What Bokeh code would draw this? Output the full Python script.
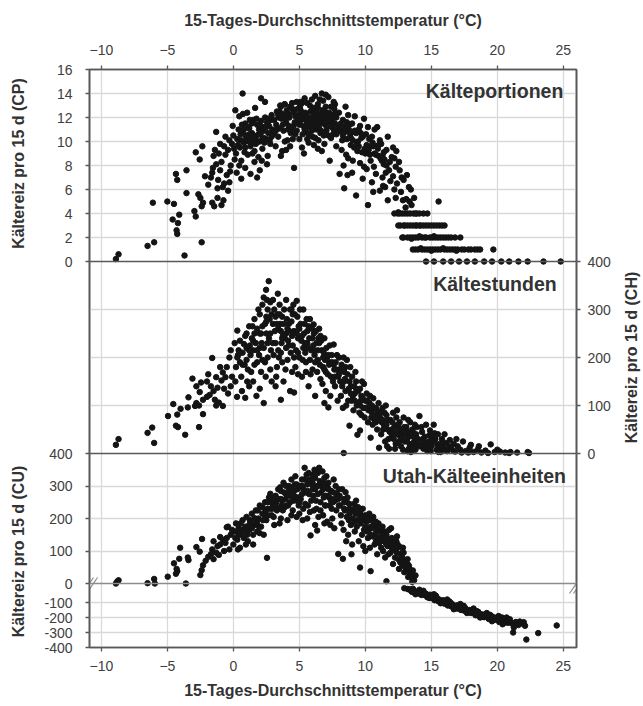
import math
from bokeh.plotting import figure
from bokeh.models import Range1d, FixedTicker, Label, Span, LinearAxis
from bokeh.layouts import row
from bokeh.embed import file_html
from bokeh.resources import INLINE

# ---------------- data (temperature °C, chill value) ----------------
x_ticks = [-10, -5, 0, 5, 10, 15, 20, 25]
cp_ticks = [0, 2, 4, 6, 8, 10, 12, 14, 16]
ch_ticks = [0, 100, 200, 300, 400]
cu_pos_ticks = [0, 100, 200, 300, 400]
cu_neg_ticks = [-400, -300, -200, -100]

cp_pairs = [
    (-8.9, 0.2), (-8.7, 0.6), (-6.5, 1.3), (-6.0, 1.6), (-6.1, 4.9), (-5.0, 5.0), (-4.5, 4.8), (-4.6, 3.5),
    (-4.1, 3.9), (-4.2, 3.2), (-4.3, 2.6), (-4.25, 2.3), (-4.35, 7.3), (-4.25, 6.8), (-3.7, 0.5), (-3.55, 7.6),
    (-3.55, 5.7), (-2.85, 9.1), (-2.35, 9.6), (-2.55, 8.5), (-2.95, 4.2), (-2.85, 3.75), (-2.65, 5.6), (-2.5, 5.3),
    (-2.3, 4.9), (-2.4, 4.6), (-2.4, 1.6), (-2.15, 7.1), (-1.9, 6.4), (-1.7, 7.0), (-1.6, 7.4), (-1.5, 8.8),
    (-1.3, 8.1), (-1.55, 7.8), (-1.6, 4.9), (-1.45, 4.6), (-1.2, 5.3), (-0.9, 4.7), (-0.75, 5.1), (-1.3, 10.8),
    (-1.2, 6.1), (-1.0, 7.6), (-0.9, 8.3), (-0.8, 6.2), (-0.7, 6.5), (-0.6, 8.9), (-0.5, 7.2), (-0.4, 5.9),
    (-0.3, 6.6), (-0.2, 8.0), (-1.1, 9.0), (-0.7, 9.6), (-0.4, 9.3), (-0.1, 9.8), (0.0, 10.5), (-0.3, 10.1),
    (-0.6, 10.4), (-1.0, 9.8), (-1.4, 9.3), (-0.05, 11.3), (-0.25, 7.5), (-1.15, 6.8),
    (0.15, 12.6), (0.73, 12.3), (0.7, 14.0), (0.2, 9.0), (0.3, 10.2), (0.4, 11.0), (0.5, 9.5), (0.6, 8.4),
    (0.7, 10.8), (0.8, 9.9), (0.9, 11.5), (1.0, 10.3), (1.1, 8.9), (1.2, 11.1), (1.3, 9.6), (1.4, 10.7),
    (1.5, 11.8), (1.6, 9.2), (1.7, 10.4), (1.8, 11.4), (1.9, 8.7), (2.0, 10.0), (2.1, 11.7), (2.2, 9.4),
    (2.3, 10.9), (2.4, 12.0), (2.5, 10.2), (2.6, 8.8), (2.7, 11.3), (2.8, 9.8), (2.9, 12.2), (3.0, 10.6),
    (0.25, 7.4), (0.6, 6.9), (0.9, 7.8), (1.3, 7.3), (1.8, 7.0), (2.0, 7.6), (2.55, 8.1), (0.1, 8.5),
    (0.45, 12.1), (1.05, 12.4), (2.1, 13.6), (2.4, 13.3), (1.65, 12.8), (0.35, 9.7), (0.55, 10.6), (0.85, 9.1),
    (1.15, 10.0), (1.45, 9.0), (1.75, 11.9), (2.05, 10.6), (2.35, 9.9), (2.65, 10.7), (2.95, 11.0), (1.25, 11.8),
    (0.95, 10.5), (1.85, 10.0), (2.25, 11.2), (2.55, 11.6), (2.75, 10.1), (0.05, 9.4), (0.65, 11.4), (1.35, 10.2),
    (2.15, 8.4), (2.85, 11.8), (1.55, 10.5), (0.45, 8.0), (1.95, 11.0), (1.6, 8.3),
    (3.1, 11.8), (3.2, 9.6), (3.3, 12.5), (3.4, 10.4), (3.5, 11.1), (3.6, 12.9), (3.7, 9.2), (3.8, 10.9),
    (3.9, 13.1), (4.0, 11.6), (4.1, 10.1), (4.2, 12.3), (4.3, 9.6), (4.4, 11.0), (4.5, 12.7), (4.6, 7.8),
    (4.7, 10.6), (4.8, 13.3), (4.9, 11.9), (5.0, 10.2), (5.1, 12.6), (5.2, 9.5), (5.3, 11.3), (5.4, 13.6),
    (5.5, 10.8), (5.6, 12.1), (5.7, 9.9), (5.8, 13.0), (5.9, 11.5), (6.0, 10.4), (6.1, 12.8), (6.2, 13.8),
    (6.3, 11.0), (6.4, 9.4), (6.5, 12.3), (6.6, 10.7), (6.7, 14.0), (6.8, 11.8), (6.9, 9.8), (7.0, 12.9),
    (7.1, 11.2), (7.2, 13.7), (7.3, 8.4), (7.4, 10.3), (7.5, 12.2), (7.6, 11.0), (7.7, 13.1), (7.8, 9.6),
    (7.9, 10.8), (8.0, 12.4), (3.15, 10.8), (3.45, 12.0), (3.75, 11.4), (4.05, 12.6), (4.35, 10.7), (4.65, 11.6),
    (4.95, 12.2), (5.25, 10.6), (5.55, 11.7), (5.85, 12.5), (6.15, 11.3), (6.45, 10.1), (6.75, 12.6), (7.05, 10.9),
    (7.35, 11.6), (7.65, 12.7), (7.95, 11.2), (3.3, 11.0), (3.9, 10.0), (4.5, 10.2), (5.0, 11.4), (5.4, 11.0),
    (5.7, 10.6), (6.0, 11.8), (6.3, 12.4), (6.6, 11.5), (6.9, 12.0), (7.2, 10.5), (7.5, 11.7), (7.8, 12.0),
    (5.35, 9.0), (6.1, 9.7), (6.7, 9.2), (4.2, 11.3), (4.8, 10.9), (5.2, 13.2), (5.95, 13.5), (6.55, 13.5),
    (7.0, 13.9), (3.55, 13.0), (4.45, 13.2), (5.15, 11.8), (5.45, 12.4), (5.75, 11.2), (6.05, 12.1), (6.35, 11.7),
    (6.65, 10.9), (6.95, 11.4), (7.25, 12.4), (7.55, 10.6), (5.6, 10.2), (6.2, 10.3), (6.85, 10.5), (3.87, 13.1),
    (3.6, 8.8), (4.0, 9.3),
    (8.1, 10.9), (8.2, 9.3), (8.3, 11.8), (8.4, 6.1), (8.5, 12.9), (8.6, 10.2), (8.7, 8.6), (8.8, 11.4),
    (8.9, 9.7), (9.0, 7.4), (9.1, 10.8), (9.2, 12.1), (9.3, 5.5), (9.4, 9.2), (9.5, 11.0), (9.6, 8.2),
    (9.7, 10.3), (9.8, 6.9), (9.9, 11.9), (10.0, 9.0), (10.1, 7.7), (10.2, 4.7), (10.3, 10.2), (10.4, 8.4),
    (10.5, 6.6), (10.6, 9.6), (10.7, 11.0), (10.8, 7.3), (10.9, 11.2), (11.0, 8.8), (11.1, 5.9), (11.2, 9.8),
    (11.3, 7.0), (11.4, 8.1), (11.5, 6.2), (11.6, 9.3), (11.7, 5.1), (11.8, 7.6), (11.9, 6.7), (12.0, 8.7),
    (8.25, 10.1), (8.55, 8.9), (8.85, 10.6), (9.15, 9.5), (9.45, 10.0), (9.75, 9.1), (10.05, 10.6), (10.35, 8.9),
    (10.65, 7.9), (10.95, 9.4), (11.25, 8.4), (11.55, 7.4), (11.85, 8.3), (8.4, 11.2), (8.7, 12.2), (9.0, 11.5),
    (9.3, 10.7), (9.6, 11.3), (10.2, 11.2), (10.5, 10.4), (10.8, 8.9), (11.1, 10.1), (11.4, 9.1), (12.1, 9.5),
    (12.3, 7.9), (12.2, 6.0), (8.05, 7.3), (8.35, 8.0), (9.05, 8.4), (9.9, 7.9), (10.6, 5.8), (11.35, 6.3),
    (8.65, 7.2), (11.7, 10.4),
    (12.1, 7.1), (12.2, 8.6), (12.3, 5.3), (12.4, 6.5), (12.5, 4.1), (12.6, 7.6), (12.7, 5.8), (12.8, 4.0),
    (12.9, 6.8), (13.0, 3.0), (13.1, 5.2), (13.2, 4.0), (13.3, 6.2), (13.4, 3.0), (13.5, 4.7), (13.6, 2.0),
    (13.7, 5.3), (13.8, 3.0), (13.9, 4.0), (14.0, 2.0), (14.2, 3.0), (14.4, 4.0), (14.6, 2.0), (14.8, 3.0),
    (12.35, 9.2), (12.55, 8.3), (12.75, 7.0), (12.45, 4.0), (12.65, 3.0), (12.9, 2.0), (13.15, 7.2), (13.45, 6.0),
    (13.65, 4.0), (13.05, 4.5), (13.35, 5.0), (12.85, 5.1), (15.55, 5.0),
    (12.2, 4.0), (12.6, 4.0), (13.0, 4.0), (13.4, 4.0), (13.8, 4.0), (14.1, 4.0), (14.7, 4.0),
    (12.5, 3.0), (12.9, 3.0), (13.2, 3.0), (13.6, 3.0), (13.9, 3.0), (14.1, 3.0), (14.4, 3.0), (14.6, 3.0),
    (15.0, 3.0), (15.2, 3.0), (15.4, 3.0), (15.6, 3.0), (15.8, 3.0), (16.0, 3.0),
    (12.8, 2.0), (13.2, 2.0), (13.4, 2.0), (13.8, 2.0), (14.3, 2.0), (14.5, 2.0), (14.9, 2.0), (15.1, 2.0),
    (15.3, 2.0), (15.5, 2.0), (15.7, 2.0), (15.9, 2.0), (16.1, 2.0), (16.3, 2.0), (16.5, 2.0), (16.8, 2.0),
    (17.2, 2.0), (13.5, 1.9), (14.1, 2.1), (15.2, 2.1),
    (13.6, 1.0), (13.8, 1.0), (14.0, 1.0), (14.3, 1.0), (14.5, 1.0), (14.7, 1.0), (14.9, 1.0), (15.1, 1.0),
    (15.3, 1.0), (15.5, 1.0), (15.7, 1.0), (16.0, 1.0), (16.2, 1.0), (16.4, 1.0), (16.6, 1.0), (16.8, 1.0),
    (17.0, 1.0), (17.3, 1.0), (17.5, 1.0), (17.8, 1.0), (18.0, 1.0), (18.3, 1.0), (18.5, 1.0), (18.7, 1.0),
    (19.7, 1.0), (14.2, 1.1), (15.0, 0.9), (15.9, 1.1), (16.9, 0.9),
    (14.6, 0.0), (15.2, 0.0), (15.9, 0.0), (16.5, 0.0), (17.1, 0.0), (17.7, 0.0), (18.3, 0.0), (19.0, 0.0),
    (19.6, 0.0), (20.3, 0.0), (20.9, 0.0), (21.6, 0.0), (22.3, 0.0), (23.5, 0.0), (24.8, 0.0),
]
cp_core_pairs = [
    (3.25, 11.4), (3.65, 11.9), (4.15, 11.0), (4.55, 11.3), (4.85, 12.7), (5.05, 12.9), (5.35, 12.0), (5.65, 11.4),
    (5.95, 10.9), (6.25, 11.9), (6.5, 11.1), (6.8, 12.3), (7.1, 12.2), (7.4, 12.9), (7.7, 11.5), (8.0, 11.0),
    (8.3, 10.5), (8.6, 11.6), (8.9, 10.3), (9.2, 10.9), (9.5, 9.6), (9.8, 10.4), (10.1, 9.7), (10.4, 9.6),
    (10.7, 9.0), (11.0, 9.7), (11.3, 8.8), (11.6, 8.0), (1.1, 11.2), (1.4, 11.5), (1.7, 9.8), (2.0, 11.3),
    (2.3, 10.3), (2.6, 11.9), (2.9, 10.4), (0.6, 10.1), (0.9, 9.5), (1.5, 10.0), (3.5, 12.5), (4.3, 12.9),
    (5.6, 13.2), (6.4, 13.1), (7.3, 12.0), (4.7, 12.1), (3.95, 11.9), (6.0, 12.7), (7.8, 10.6),
    (3.4, 12.2), (3.8, 12.3), (4.25, 12.0), (4.6, 12.4), (4.9, 11.5), (5.3, 12.3), (5.5, 11.9), (5.8, 11.9),
    (6.1, 12.3), (6.3, 11.4), (6.6, 12.0), (6.9, 12.6), (7.15, 11.8), (7.45, 11.2), (7.7, 12.3), (8.15, 11.5),
    (8.45, 10.8), (8.75, 11.0), (9.05, 10.1), (9.35, 9.9), (9.65, 10.7), (9.95, 9.4), (10.25, 9.3), (10.55, 9.9),
    (10.85, 9.6), (11.15, 8.6), (11.45, 8.5), (2.2, 10.2), (2.5, 11.2), (1.9, 10.6), (1.2, 10.6), (0.8, 11.0),
    (5.1, 13.3), (6.4, 12.8), (7.6, 13.3), (6.8, 13.4),
]

ch_pairs = [
    (-8.9, 18), (-8.7, 30), (-6.5, 43), (-6.15, 54), (-6.0, 22), (-4.95, 78), (-4.55, 103), (-4.0, 93),
    (-4.25, 81), (-4.35, 58), (-4.2, 55), (-3.65, 39), (-3.4, 117), (-3.45, 96), (-2.8, 105), (-2.6, 100),
    (-2.9, 99), (-2.3, 82), (-2.6, 55), (-2.8, 140), (-2.55, 128), (-2.45, 148), (-2.3, 112), (-2.0, 150),
    (-1.6, 199), (-1.5, 130), (-1.4, 112), (-1.3, 100), (-1.1, 106), (-0.8, 99), (-1.3, 159), (-0.9, 152),
    (-0.8, 169), (-0.6, 159), (-0.5, 180), (-0.3, 200), (-0.2, 215), (-1.8, 122), (-1.7, 140), (-1.2, 137),
    (-1.0, 180), (-0.7, 135), (-0.4, 125), (-0.1, 160), (-0.2, 140), (-1.9, 165), (-3.1, 156), (-2.0, 118),
    (0.1, 230), (0.3, 256), (0.28, 118), (0.5, 190), (0.7, 210), (0.9, 116), (0.9, 245), (1.1, 175),
    (1.2, 265), (1.3, 205), (1.5, 150), (1.6, 280), (1.7, 230), (1.8, 190), (1.9, 300), (2.0, 250),
    (2.1, 170), (2.2, 310), (2.3, 105), (2.3, 220), (2.48, 341), (2.5, 285), (2.6, 200), (2.68, 359),
    (2.7, 240), (2.8, 315), (2.9, 150), (3.0, 270), (0.2, 180), (0.4, 215), (0.6, 160), (0.8, 228),
    (1.0, 195), (1.2, 140), (1.4, 240), (1.6, 185), (1.8, 260), (2.0, 135), (2.2, 265), (2.4, 190),
    (2.6, 300), (2.8, 175), (0.5, 235), (1.0, 250), (1.5, 215), (2.0, 290), (2.5, 250), (0.65, 130),
    (1.35, 170), (2.15, 230), (2.85, 215), (1.75, 120), (0.15, 150), (0.35, 205), (0.85, 185), (1.25, 225),
    (1.95, 205), (2.45, 160), (1.45, 265), (2.3, 325), (2.55, 320), (1.05, 150), (2.75, 280),
    (3.1, 300), (3.2, 230), (3.37, 333), (3.3, 180), (3.4, 260), (3.5, 310), (3.6, 112), (3.6, 210),
    (3.7, 285), (3.8, 150), (3.9, 240), (4.0, 320), (4.1, 195), (4.2, 270), (4.3, 130), (4.4, 300),
    (4.5, 225), (4.6, 127), (4.6, 255), (4.7, 180), (4.8, 318), (4.9, 240), (5.0, 200), (3.15, 255),
    (3.45, 200), (3.75, 245), (4.05, 280), (4.35, 210), (4.65, 290), (4.95, 265), (3.25, 160), (3.55, 270),
    (3.85, 300), (4.15, 235), (4.45, 170), (4.75, 215), (3.05, 205), (3.65, 230), (4.25, 255), (4.85, 285),
    (3.95, 175), (4.55, 310), (3.35, 290), (4.0, 220), (4.45, 245), (4.9, 165), (3.7, 190), (3.2, 140),
    (5.1, 270), (5.2, 160), (5.3, 300), (5.4, 230), (5.5, 190), (5.6, 255), (5.7, 140), (5.8, 280),
    (5.9, 215), (6.0, 175), (6.1, 250), (6.2, 120), (6.3, 230), (6.4, 195), (6.5, 260), (6.6, 155),
    (6.7, 215), (6.8, 180), (6.9, 240), (7.0, 130), (7.1, 200), (7.2, 96), (7.3, 225), (7.4, 160),
    (7.5, 190), (7.6, 227), (7.7, 140), (7.8, 175), (7.9, 110), (8.0, 200), (5.15, 235), (5.45, 210),
    (5.75, 240), (6.05, 225), (6.35, 170), (6.65, 235), (6.95, 195), (7.25, 185), (7.55, 150), (7.85, 205),
    (5.25, 195), (5.55, 280), (5.85, 165), (6.15, 205), (6.45, 240), (6.75, 145), (7.05, 220), (7.35, 120),
    (7.65, 175), (7.95, 160), (5.05, 300), (5.65, 220), (6.25, 255), (6.85, 210), (7.45, 205), (5.35, 250),
    (5.95, 260), (6.55, 185), (7.15, 165), (7.75, 190), (6.08, 269), (5.5, 170), (6.9, 105),
    (8.1, 150), (8.2, 185), (8.3, 95), (8.4, 170), (8.5, 130), (8.6, 195), (8.7, 110), (8.8, 58),
    (8.86, 180), (8.9, 140), (9.0, 160), (9.1, 90), (9.2, 125), (9.3, 150), (9.4, 39), (9.5, 105),
    (9.6, 48), (9.6, 135), (9.7, 80), (9.8, 115), (9.9, 145), (10.0, 95), (10.1, 125), (10.2, 65),
    (10.3, 105), (10.4, 33), (10.5, 85), (10.6, 115), (10.7, 70), (10.8, 95), (10.9, 50), (11.0, 105),
    (11.04, 12), (8.15, 120), (8.45, 155), (8.75, 135), (9.05, 120), (9.35, 100), (9.65, 110), (9.95, 75),
    (10.25, 90), (10.55, 60), (10.85, 80), (8.35, 200), (8.65, 165), (9.25, 170), (9.75, 150), (10.15, 110),
    (10.65, 95), (8.05, 175), (8.55, 100), (9.15, 140), (9.85, 95), (10.45, 75), (10.95, 88), (8.25, 140),
    (9.45, 130), (10.35, 120), (8.95, 110), (9.55, 85), (8.36, 1),
    (11.1, 75), (11.2, 40), (11.3, 95), (11.4, 60), (11.5, 25), (11.6, 80), (11.7, 50), (11.8, 10),
    (11.9, 70), (12.0, 35), (12.1, 85), (12.2, 55), (12.3, 20), (12.4, 90), (12.5, 45), (12.6, 65),
    (12.7, 15), (12.8, 40), (12.9, 75), (13.0, 25), (13.1, 55), (13.2, 5), (13.3, 35), (13.4, 65),
    (13.5, 15), (13.6, 45), (13.7, 25), (13.8, 8), (13.9, 55), (14.0, 30), (11.25, 65), (11.55, 100),
    (11.85, 45), (12.15, 30), (12.45, 60), (12.75, 50), (13.05, 40), (13.35, 20), (13.65, 35), (13.95, 18),
    (11.45, 85), (11.75, 30), (12.05, 65), (12.35, 75), (12.65, 35), (12.95, 55), (13.25, 70), (13.55, 50),
    (13.85, 40), (11.65, 15), (12.25, 10), (12.85, 8), (13.45, 3), (11.35, 50), (12.55, 25), (13.15, 28),
    (13.75, 60),
    (14.1, 78), (14.2, 20), (14.3, 45), (14.4, 10), (14.5, 35), (14.6, 60), (14.7, 5), (14.8, 25),
    (14.9, 48), (15.0, 15), (15.18, 60), (15.3, 30), (15.4, 8), (15.5, 40), (15.6, 20), (15.7, 3),
    (15.8, 30), (15.9, 12), (16.0, 40), (16.1, 22), (16.2, 5), (16.4, 28), (16.5, 12), (16.7, 20),
    (16.8, 4), (17.0, 15), (17.2, 8), (17.4, 25), (14.25, 55), (14.55, 22), (14.85, 38), (15.15, 25),
    (15.45, 18), (15.75, 10), (16.05, 8), (16.35, 15), (16.65, 6), (14.35, 30), (14.65, 15), (14.95, 5),
    (15.25, 42), (15.55, 3), (15.85, 22),
    (17.6, 5), (17.9, 12), (18.2, 3), (18.5, 8), (18.8, 2), (19.1, 6), (19.5, 19), (19.8, 3),
    (20.2, 4), (20.6, 2), (21.0, 3), (21.5, 2), (22.3, 3), (17.8, 2), (18.6, 15), (19.3, 1),
    (20.0, 8), (16.9, 30), (17.3, 2), (18.0, 18), (20.9, 1), (22.4, 1),
]
ch_core_pairs = [
    (1.2, 215), (1.6, 250), (2.0, 220), (2.4, 270), (2.8, 250), (3.2, 285), (3.6, 255), (4.0, 250),
    (4.4, 275), (4.8, 250), (5.2, 245), (5.6, 230), (6.0, 240), (6.4, 215), (6.8, 200), (7.2, 205),
    (7.6, 185), (8.0, 165), (8.4, 150), (8.8, 150), (9.2, 110), (9.6, 100), (10.0, 110), (10.4, 90),
    (10.8, 65), (11.2, 85), (11.6, 60), (12.0, 50), (12.4, 40), (12.8, 30), (13.2, 45), (13.6, 20),
    (3.0, 230), (3.4, 215), (3.8, 270), (4.2, 225), (4.6, 200), (5.0, 260), (5.4, 270), (5.8, 195),
    (6.2, 190), (6.6, 245), (7.0, 170), (2.2, 195), (1.8, 215), (0.7, 185), (0.3, 200), (2.6, 230),
    (1.5, 235), (2.1, 250), (2.5, 275), (2.9, 290), (3.3, 270), (3.7, 240), (4.1, 260), (4.5, 290),
    (4.9, 210), (5.3, 220), (5.7, 265), (6.1, 215), (6.5, 230), (6.9, 175), (7.3, 190), (7.7, 160),
    (8.1, 175), (8.5, 180), (8.9, 125), (9.3, 135), (9.7, 120), (10.1, 95), (10.5, 100), (10.9, 70),
    (11.3, 70), (11.7, 70), (12.1, 45), (12.5, 55), (12.9, 45), (13.3, 10), (13.7, 10), (14.1, 15),
    (14.5, 20), (15.0, 35), (1.0, 220), (0.5, 210), (3.0, 320), (3.5, 290), (4.3, 300),
]

cu_pairs = [
    (-8.9, 0), (-8.8, 6), (-8.7, 10), (-6.5, 1), (-6.0, 14), (-5.95, 0), (-4.97, 21), (-4.5, 62),
    (-4.1, 76), (-4.03, 110), (-4.3, 45), (-4.35, 30), (-4.25, 38), (-3.6, 0), (-3.4, 72), (-3.45, 80),
    (-2.8, 112), (-2.55, 98), (-2.37, 137), (-2.4, 41), (-2.5, 26), (-2.3, 56), (-2.1, 70), (-1.9, 82),
    (-1.7, 90), (-1.5, 75), (-1.6, 105), (-1.3, 95), (-1.0, 120), (-0.8, 135), (-0.6, 125), (-0.5, 140),
    (-1.1, 88), (-0.7, 100), (-0.3, 105), (-0.2, 150), (-0.1, 165), (-0.4, 175), (-1.5, 130), (-1.2, 115),
    (-1.0, 143), (-0.5, 173),
    (0.0, 120), (0.1, 160), (0.2, 185), (0.3, 135), (0.4, 170), (0.5, 110), (0.6, 150), (0.7, 195),
    (0.8, 140), (0.9, 175), (1.0, 205), (1.1, 130), (1.2, 165), (1.3, 190), (1.4, 215), (1.5, 150),
    (1.6, 180), (1.7, 225), (1.8, 160), (1.9, 200), (2.0, 240), (2.1, 175), (2.2, 215), (2.3, 150),
    (2.4, 250), (2.5, 195), (2.55, 79), (2.6, 230), (2.7, 265), (2.8, 276), (2.9, 210), (3.0, 245),
    (3.1, 180), (3.2, 270), (3.3, 225), (3.4, 290), (3.55, 296), (3.6, 200), (3.7, 255), (3.8, 310),
    (3.9, 235), (4.0, 275), (4.1, 195), (4.2, 300), (4.3, 250), (4.4, 320), (4.5, 225), (4.6, 285),
    (4.7, 330), (4.8, 205), (4.9, 265), (5.0, 300), (0.15, 140), (0.45, 155), (0.75, 165), (1.05, 150),
    (1.35, 175), (1.65, 200), (1.95, 175), (2.25, 195), (2.65, 210), (2.95, 230), (3.25, 250), (3.65, 240),
    (3.95, 260), (4.25, 270), (4.55, 255), (4.85, 290), (0.55, 185), (1.25, 195), (1.85, 225), (2.45, 225),
    (3.05, 205), (3.45, 260), (3.85, 280), (4.15, 240), (4.65, 305), (4.95, 240), (2.0, 155), (3.5, 185),
    (4.4, 210), (1.5, 120), (0.35, 105), (2.85, 250), (3.75, 225), (4.75, 260), (1.75, 185), (0.95, 120),
    (5.1, 260), (5.2, 320), (5.3, 230), (5.4, 356), (5.5, 280), (5.6, 200), (5.7, 310), (5.85, 148),
    (5.9, 255), (6.0, 335), (6.1, 225), (6.2, 290), (6.35, 163), (6.4, 340), (6.5, 356), (6.6, 250),
    (6.7, 300), (6.8, 210), (6.9, 325), (7.0, 270), (7.1, 190), (7.2, 310), (7.3, 240), (7.4, 285),
    (7.5, 200), (7.6, 320), (7.7, 255), (7.8, 225), (7.95, 91), (8.0, 290), (5.15, 300), (5.45, 245),
    (5.75, 275), (6.05, 270), (6.35, 300), (6.65, 280), (6.95, 240), (7.25, 265), (7.55, 250), (7.85, 275),
    (5.3, 290), (5.65, 240), (5.95, 305), (6.25, 255), (6.55, 315), (6.85, 265), (7.15, 295), (7.45, 230),
    (7.75, 300), (5.55, 335), (6.15, 350), (6.75, 345), (7.05, 330), (5.0, 215), (6.45, 205), (7.35, 180),
    (5.25, 195), (6.9, 185), (6.2, 180), (7.65, 170), (5.8, 220), (7.0, 300), (6.3, 230),
    (8.1, 240), (8.2, 185), (8.3, 76), (8.4, 260), (8.5, 281), (8.6, 205), (8.7, 150), (8.8, 245),
    (8.9, 180), (9.0, 120), (9.1, 225), (9.2, 160), (9.3, 255), (9.4, 195), (9.5, 130), (9.6, 49),
    (9.7, 210), (9.8, 230), (9.9, 165), (10.0, 100), (10.1, 190), (10.2, 140), (10.3, 215), (10.4, 38),
    (10.5, 170), (10.6, 205), (10.7, 120), (10.8, 155), (10.9, 90), (11.0, 185), (8.15, 210), (8.45, 225),
    (8.75, 195), (9.05, 200), (9.35, 175), (9.65, 185), (9.95, 195), (10.25, 165), (10.55, 145), (10.85, 170),
    (8.35, 165), (8.65, 265), (9.25, 215), (9.75, 150), (10.15, 160), (10.65, 180), (8.05, 270), (8.55, 130),
    (9.15, 245), (9.85, 115), (10.45, 195), (10.95, 140), (8.25, 290), (9.45, 235), (10.35, 110), (8.95, 90),
    (7.95, 260),
    (11.1, 160), (11.2, 110), (11.3, 175), (11.4, 130), (11.5, 80), (11.6, 7), (11.6, 150), (11.7, 115),
    (11.8, 165), (11.9, 95), (12.0, 140), (12.1, 60), (12.2, 125), (12.3, 100), (12.4, 145), (12.5, 75),
    (12.6, 113), (12.7, 90), (12.8, 55), (12.9, 95), (13.0, 70), (13.1, 40), (13.2, 75), (13.3, 55),
    (13.4, 30), (13.5, 20), (13.6, 40), (13.7, 10), (13.8, 25), (11.25, 145), (11.55, 125), (11.85, 135),
    (12.15, 105), (12.45, 120), (12.75, 75), (13.05, 50), (13.35, 45), (11.45, 160), (11.75, 90), (12.05, 115),
    (12.35, 130), (12.65, 65), (12.95, 35), (13.25, 20), (11.35, 100), (12.25, 80), (12.85, 110), (11.95, 170),
    (11.05, 125), (13.55, 5), (12.55, 45),
    (12.95, -5), (13.2, -10), (13.4, -15), (13.5, -25), (13.7, -20), (13.9, -35), (14.0, -28), (14.2, -40),
    (14.3, -30), (14.5, -50), (14.6, -42), (14.8, -58), (14.9, -48), (15.0, -70), (15.1, -60), (15.3, -78),
    (15.4, -68), (15.5, -90), (15.6, -80), (15.8, -95), (15.9, -85), (16.0, -108), (16.1, -98), (16.3, -115),
    (16.4, -105), (16.5, -125), (16.6, -112), (16.8, -130), (16.9, -120), (17.0, -140), (17.1, -128), (17.3, -145),
    (17.4, -135), (17.5, -155), (17.6, -142), (17.8, -160), (17.9, -150), (18.0, -170), (18.1, -158), (18.3, -175),
    (18.4, -165), (18.5, -185), (18.6, -172), (18.8, -190), (18.9, -180), (19.0, -198), (19.1, -185), (19.3, -200),
    (19.4, -192), (19.5, -210), (19.7, -198), (19.9, -215), (20.0, -205), (20.2, -220), (20.3, -210), (20.5, -228),
    (20.6, -215), (20.8, -235), (20.9, -222), (21.1, -240), (21.2, -300), (21.25, -267), (21.4, -230), (21.7, -227),
    (22.0, -231), (22.2, -347), (23.1, -304), (24.5, -253), (21.6, -250), (20.4, -245), (19.6, -225), (18.7, -200),
    (17.7, -170), (16.7, -145), (15.7, -105), (14.7, -65), (13.8, -45), (14.1, -15), (15.2, -45), (16.2, -80),
    (17.2, -110), (18.2, -140), (19.2, -170), (20.1, -190), (13.6, -8), (14.4, -22), (15.35, -55), (16.35, -92),
    (17.45, -122), (18.45, -158), (19.45, -182), (20.7, -200),
]
cu_core_pairs = [
    (3.2, 240), (3.6, 260), (4.0, 240), (4.4, 270), (4.8, 255), (5.2, 275), (5.6, 285), (6.0, 290),
    (6.4, 275), (6.8, 290), (7.2, 270), (7.6, 280), (8.0, 240), (8.4, 230), (8.8, 215), (9.2, 190),
    (9.6, 200), (10.0, 175), (10.4, 175), (10.8, 130), (11.2, 140), (11.6, 120), (12.0, 110), (12.4, 95),
    (12.8, 80), (13.2, 50), (2.2, 235), (2.6, 250), (1.6, 200), (1.2, 180), (0.6, 165), (5.4, 320),
    (6.2, 325), (5.8, 320), (7.0, 240), (6.6, 225), (4.2, 285), (4.6, 270), (5.0, 250), (3.4, 230),
    (2.9, 260), (7.4, 255), (8.6, 250), (9.4, 215), (10.2, 200),
    (2.4, 210), (2.8, 230), (3.2, 265), (3.6, 285), (4.0, 300), (4.4, 295), (4.8, 305), (5.2, 300),
    (5.6, 305), (6.0, 310), (6.4, 300), (6.8, 310), (7.2, 290), (7.6, 260), (8.0, 265), (8.4, 250),
    (8.8, 230), (9.2, 230), (9.6, 220), (10.0, 210), (10.4, 150), (10.8, 190), (11.2, 170), (11.6, 135),
    (12.0, 125), (12.4, 110), (12.8, 95), (13.2, 60), (13.5, 35), (1.8, 190), (1.4, 170), (1.0, 160),
    (0.4, 150), (5.7, 340), (6.3, 345), (6.9, 300),
    (13.3, -12), (13.55, -30), (13.75, -35), (14.05, -40), (14.25, -50), (14.45, -35), (14.65, -55), (14.85, -70),
    (15.05, -55), (15.25, -85), (15.45, -75), (15.65, -95), (15.85, -100), (16.05, -90), (16.25, -120), (16.45, -100),
    (16.65, -125), (16.85, -140), (17.05, -118), (17.25, -150), (17.55, -135), (17.75, -155), (17.95, -165), (18.15, -150),
    (18.35, -185), (18.55, -162), (18.75, -180), (18.95, -195), (19.15, -180), (19.35, -210), (19.55, -190), (19.75, -212),
    (19.95, -200), (20.15, -230), (20.35, -200), (20.55, -235), (20.75, -225), (20.95, -212), (21.3, -245), (21.5, -238),
    (21.8, -240), (22.1, -255),
]

cp_all = cp_pairs + cp_core_pairs
ch_all = ch_pairs + ch_core_pairs
cu_all = cu_pairs + cu_core_pairs
cp_t = [p[0] for p in cp_all]
cp_v = [p[1] for p in cp_all]
ch_t = [p[0] for p in ch_all]
ch_v = [p[1] for p in ch_all]
cu_pos_t = [p[0] for p in cu_all if p[1] >= 0]
cu_pos_v = [p[1] for p in cu_all if p[1] >= 0]
cu_neg_t = [p[0] for p in cu_all if p[1] < 0]
cu_neg_v = [p[1] for p in cu_all if p[1] < 0]

# ---------------- layout / style ----------------
FONT = "Liberation Sans"
LABEL_W = 30                      # strip on the left holding the two left axis titles
RLABEL_W = 22                     # strip on the right holding the CH axis title
FRAME_W = 487
LEFT_B, RIGHT_B, TOP_B, BOTTOM_B = 59, 43, 69, 57
# stacked panel heights (px), bottom to top
NEG_H, GAP_H, POS_H, CH_H, CP_H = 60, 4, 130, 192, 192
FRAME_H = NEG_H + GAP_H + POS_H + CH_H + CP_H
EDGE = "#595959"
GRID = "#d9d9d9"
DOT = "#141414"
DOT_SIZE = 5.5

# base (pixel height of value 0 above the frame bottom) and scale (px per unit) of each panel
neg_base, neg_scale = NEG_H, NEG_H / 400.0
pos_base, pos_scale = NEG_H + GAP_H, POS_H / 400.0
ch_base, ch_scale = NEG_H + GAP_H + POS_H, CH_H / 400.0
cp_base, cp_scale = NEG_H + GAP_H + POS_H + CH_H, CP_H / 16.0


def panel_range(base, scale):
    return Range1d(-base / scale, (FRAME_H - base) / scale)


def to_px(v, base, scale):
    return round(base + v * scale, 4)


xr = Range1d(-10.9, 26.0)
p = figure(frame_width=FRAME_W, frame_height=FRAME_H, x_range=xr, y_range=Range1d(0, FRAME_H),
           output_backend="svg", toolbar_location=None, x_axis_location="below", y_axis_location="left",
           min_border_left=LEFT_B, min_border_right=RIGHT_B, min_border_top=TOP_B, min_border_bottom=BOTTOM_B)
p.extra_y_ranges = {
    "cp": panel_range(cp_base, cp_scale),
    "ch": panel_range(ch_base, ch_scale),
    "cupos": panel_range(pos_base, pos_scale),
    "cuneg": panel_range(neg_base, neg_scale),
}
p.extra_x_ranges = {"px": Range1d(0, FRAME_W)}
p.outline_line_color = EDGE
p.outline_line_width = 1.6
p.background_fill_color = "white"
p.border_fill_color = "white"


def style_axis(ax, tick_out=4, standoff=10, label_standoff=10):
    ax.axis_line_color = EDGE
    ax.axis_line_width = 1.6
    ax.major_tick_line_color = EDGE
    ax.major_tick_line_width = 1.3
    ax.major_tick_out = tick_out
    ax.major_tick_in = 0
    ax.minor_tick_line_color = None
    ax.major_label_text_font = FONT
    ax.major_label_text_font_size = "14px"
    ax.major_label_text_color = "#404040"
    ax.major_label_standoff = standoff
    ax.axis_label_text_font = FONT
    ax.axis_label_text_font_size = "16px"
    ax.axis_label_text_font_style = "bold"
    ax.axis_label_text_color = "#333333"
    ax.axis_label_standoff = label_standoff


# grids
p.xgrid.ticker = FixedTicker(ticks=x_ticks)
grid_px = ([to_px(v, cp_base, cp_scale) for v in cp_ticks[1:-1]] +
           [to_px(v, ch_base, ch_scale) for v in ch_ticks[1:-1]] +
           [to_px(v, pos_base, pos_scale) for v in cu_pos_ticks[1:-1]] +
           [to_px(v, neg_base, neg_scale) for v in cu_neg_ticks[1:]])
p.ygrid.ticker = FixedTicker(ticks=grid_px)
for g in p.grid:
    g.grid_line_color = GRID
    g.grid_line_width = 1.3

# x axes (top and bottom)
p.xaxis.ticker = FixedTicker(ticks=x_ticks)
p.xaxis.axis_label = "15-Tages-Durchschnittstemperatur (°C)"
style_axis(p.xaxis[0], tick_out=4, standoff=9, label_standoff=8)
top_ax = LinearAxis(ticker=FixedTicker(ticks=x_ticks), axis_label="15-Tages-Durchschnittstemperatur (°C)")
style_axis(top_ax, tick_out=4, standoff=11, label_standoff=13)
p.add_layout(top_ax, "above")

# left axis: CP ticks (top panel) and broken CU ticks (bottom panel)
left_vals = cp_ticks + cu_pos_ticks + cu_neg_ticks
left_px = ([to_px(v, cp_base, cp_scale) for v in cp_ticks] +
           [to_px(v, pos_base, pos_scale) for v in cu_pos_ticks] +
           [to_px(v, neg_base, neg_scale) for v in cu_neg_ticks])
p.yaxis.ticker = FixedTicker(ticks=left_px)
p.yaxis.major_label_overrides = {tp: str(v) for tp, v in zip(left_px, left_vals)}
style_axis(p.yaxis[0], tick_out=4, standoff=13, label_standoff=10)

# right axis: CH (its title sits in the right strip)
right_ax = LinearAxis(y_range_name="ch", ticker=FixedTicker(ticks=ch_ticks))
style_axis(right_ax, tick_out=4, standoff=7, label_standoff=5)
p.add_layout(right_ax, "right")

# panel separators and the zero line of the broken CU axis
for sep in (cp_base, ch_base):
    p.add_layout(Span(location=sep, dimension="width", line_color=EDGE, line_width=1.6))
p.add_layout(Span(location=pos_base, dimension="width", line_color="#8c8c8c", line_width=1.5))

# points
p.scatter(cp_t, cp_v, size=DOT_SIZE, color=DOT, y_range_name="cp")
p.scatter(ch_t, ch_v, size=DOT_SIZE, color=DOT, y_range_name="ch")
p.scatter(cu_pos_t, cu_pos_v, size=DOT_SIZE, color=DOT, y_range_name="cupos")
p.scatter(cu_neg_t, cu_neg_v, size=DOT_SIZE, color=DOT, y_range_name="cuneg")

# axis-break marks (the parts inside the frame)
brk_y = pos_base - GAP_H / 2
for ex in (0, FRAME_W):
    p.patch([ex - 6.5, ex - 3.5, ex + 7.5, ex + 4.5], [brk_y - 8, brk_y - 8, brk_y + 8, brk_y + 8],
            x_range_name="px", color="white", line_color=None)
    p.segment([ex - 7, ex - 3], [brk_y - 8, brk_y - 8], [ex + 4, ex + 8], [brk_y + 8, brk_y + 8],
              x_range_name="px", line_color="#8c8c8c", line_width=1.2)

# panel titles
for x, y, rng, txt in ((25.0, 14.25, "cp", "Kälteportionen"),
                       (24.5, 354, "ch", "Kältestunden"),
                       (25.2, 332, "cupos", "Utah-Kälteeinheiten")):
    p.add_layout(Label(x=x, y=y, y_range_name=rng, text=txt, text_align="right", text_baseline="middle",
                       text_font=FONT, text_font_size="19.5px", text_font_style="bold", text_color="#333333"))


def title_strip(width, x, labels):
    s = figure(frame_width=width, frame_height=FRAME_H, x_range=Range1d(0, width), y_range=Range1d(0, FRAME_H),
               output_backend="svg", toolbar_location=None, x_axis_location=None, y_axis_location=None,
               min_border_left=0, min_border_right=0, min_border_top=TOP_B, min_border_bottom=BOTTOM_B)
    s.outline_line_color = None
    s.grid.visible = False
    s.background_fill_color = "white"
    s.border_fill_color = "white"
    for y, txt in labels:
        s.add_layout(Label(x=x, y=y, text=txt, text_align="center", text_baseline="middle", angle=math.pi / 2,
                           text_font=FONT, text_font_size="16px", text_font_style="bold", text_color="#333333"))
    return s


left_strip = title_strip(LABEL_W, 18, [(FRAME_H - 94, "Kältereiz pro 15 d (CP)"), (96, "Kältereiz pro 15 d (CU)")])
right_strip = title_strip(RLABEL_W, 12, [(ch_base + CH_H / 2, "Kältereiz pro 15 d (CH)")])

layout = row(left_strip, p, right_strip, spacing=0)
open("out.html", "w").write(file_html(layout, INLINE))
